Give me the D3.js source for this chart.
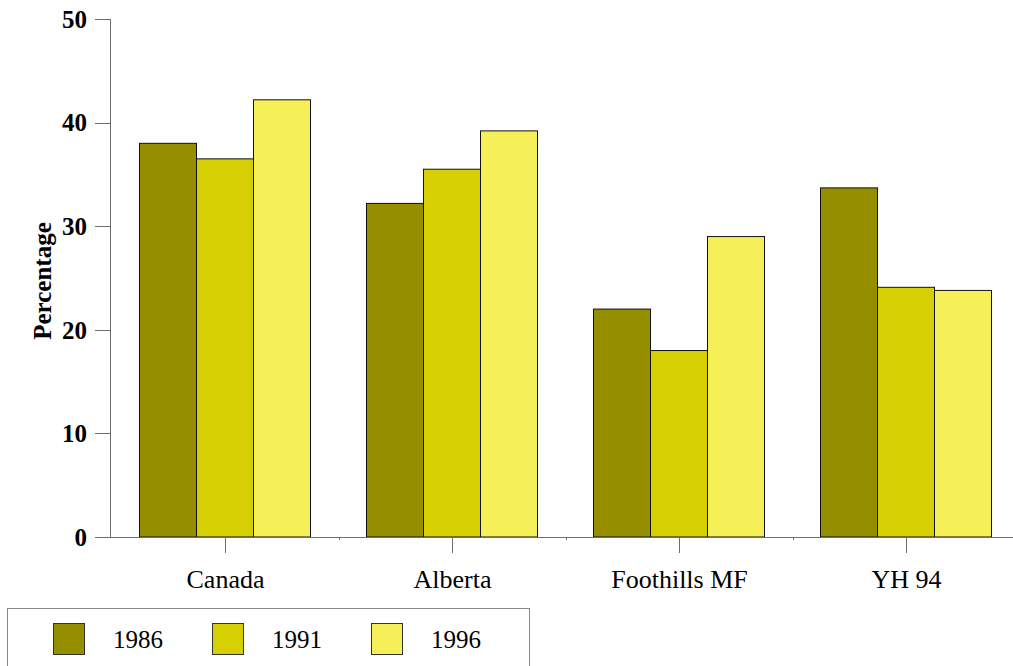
<!DOCTYPE html>
<html><head><meta charset="utf-8">
<script src="https://cdn.jsdelivr.net/npm/d3@7"></script>
<style>body{margin:0;background:#fff}svg{display:block}text{font-family:"Liberation Serif","Times New Roman",serif;fill:#000}</style>
</head><body><svg id="c" width="1013" height="666"></svg>
<script>
const categories = ["Canada", "Alberta", "Foothills MF", "YH 94"];
const years = ["1986", "1991", "1996"];
const v1986 = [38.0, 32.2, 22.0, 33.7];
const v1991 = [36.5, 35.5, 18.0, 24.1];
const v1996 = [42.2, 39.2, 29.0, 23.8];
const yTicks = [0, 10, 20, 30, 40, 50];
const colors = ["#958f00", "#d6cf04", "#f5f058"];
const series = [v1986, v1991, v1996];

const svg = d3.select("#c");
const y = d3.scaleLinear().domain([0, 50]).range([537, 19]);
const x = d3.scaleBand().domain(categories).range([111.5, 1019.5]).paddingInner(0).paddingOuter(0);
const xs = d3.scaleBand().domain(years).range([28, 227 - 28]);

// bars
const g = svg.append("g");
categories.forEach((c, i) => {
  years.forEach((yr, j) => {
    const v = series[j][i];
    g.append("rect")
      .attr("x", x(c) + xs(yr))
      .attr("y", y(v))
      .attr("width", xs.bandwidth())
      .attr("height", y(0) - y(v))
      .attr("fill", colors[j])
      .attr("stroke", "#111")
      .attr("stroke-width", 1);
  });
});

// y axis
const axisColor = "#6e6e6e";
svg.append("line").attr("x1", 110.5).attr("x2", 110.5).attr("y1", y(50)).attr("y2", y(0)).attr("stroke", axisColor);
yTicks.forEach(t => {
  svg.append("line").attr("x1", 95).attr("x2", 110.5).attr("y1", Math.round(y(t)) + 0.5).attr("y2", Math.round(y(t)) + 0.5).attr("stroke", axisColor);
  svg.append("text").attr("x", 87).attr("y", y(t)).attr("dy", "0.35em").attr("text-anchor", "end")
    .attr("font-size", 25).attr("font-weight", "bold").text(t);
});

// x axis baseline
svg.append("line").attr("x1", 95).attr("x2", 1013).attr("y1", 537.5).attr("y2", 537.5).attr("stroke", axisColor);
categories.forEach((c, i) => {
  const cx = Math.round(x(c) + x.bandwidth() / 2) + 0.5;
  svg.append("line").attr("x1", cx).attr("x2", cx).attr("y1", 537.5).attr("y2", 553).attr("stroke", axisColor);
  svg.append("text").attr("x", cx).attr("y", 588).attr("text-anchor", "middle").attr("font-size", 26).text(c);
  if (i > 0) {
    const bx = Math.round(x(c)) + 0.5;
    svg.append("line").attr("x1", bx).attr("x2", bx).attr("y1", 537.5).attr("y2", 540).attr("stroke", axisColor);
  }
});

// y label
svg.append("text").attr("transform", "translate(51,281) rotate(-90)").attr("text-anchor", "middle")
  .attr("font-size", 25).attr("font-weight", "bold").text("Percentage");

// legend
svg.append("rect").attr("x", 7.5).attr("y", 608.5).attr("width", 522).attr("height", 70).attr("fill", "none").attr("stroke", "#888");
const legX = [53, 212, 371];
years.forEach((yr, j) => {
  svg.append("rect").attr("x", legX[j] + 0.5).attr("y", 623.5).attr("width", 31).attr("height", 31)
    .attr("fill", colors[j]).attr("stroke", "#333");
  svg.append("text").attr("x", legX[j] + 85).attr("y", 648).attr("text-anchor", "middle").attr("font-size", 25).text(yr);
});
</script></body></html>
